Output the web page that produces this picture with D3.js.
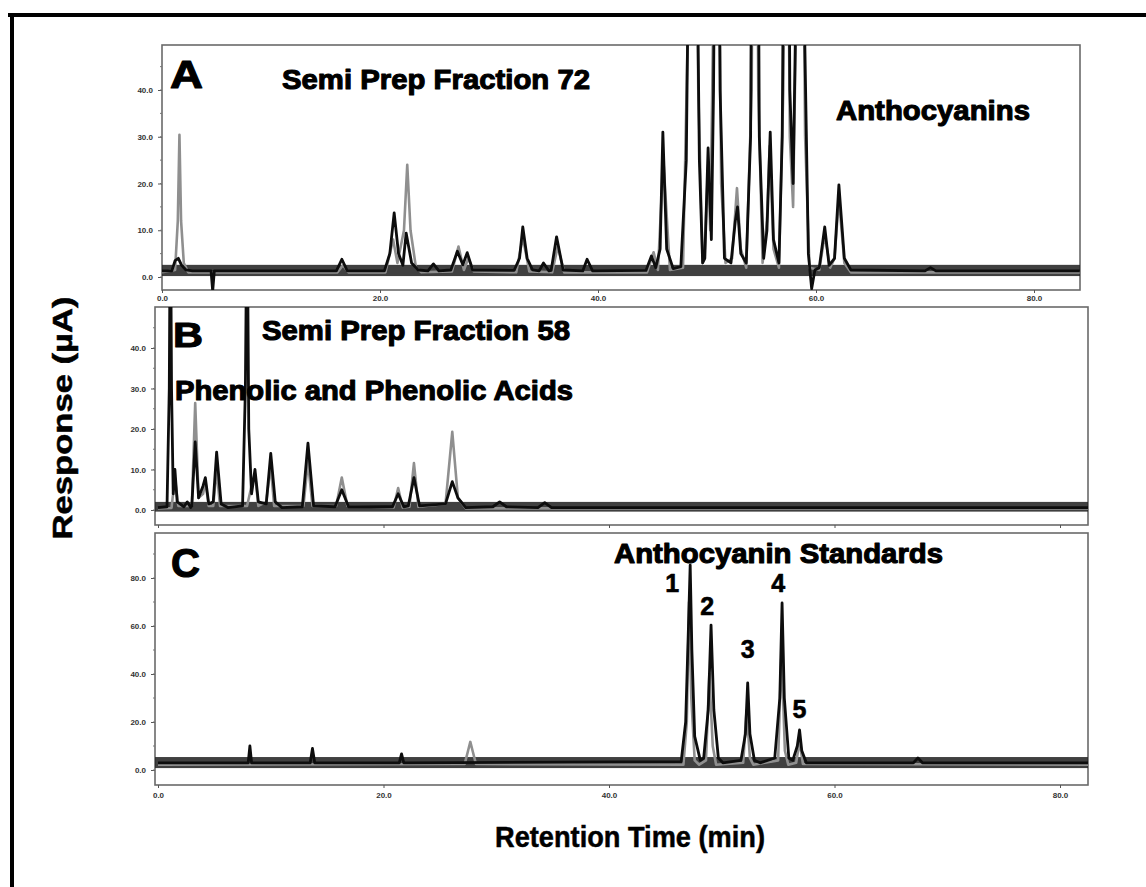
<!DOCTYPE html>
<html><head><meta charset="utf-8">
<script src="https://cdn.jsdelivr.net/npm/d3@7"></script>
<style>
body{margin:0;background:#fff;}
svg text{font-family:"Liberation Sans",Arial,Helvetica,sans-serif;}
</style>
</head><body>
<svg id="chart" width="1146" height="887"></svg>
<script>
// ---------------- DATA ----------------
const timeTicks = [0, 20, 40, 60, 80];
const timeTickLabels = ["0.0", "20.0", "40.0", "60.0", "80.0"];

const yTicksA = [0, 10, 20, 30, 40];
const yTicksB = [0, 10, 20, 30, 40];
const yTicksC = [0, 20, 40, 60, 80];
const yTickLabelsA = ["0.0", "10.0", "20.0", "30.0", "40.0"];
const yTickLabelsB = ["0.0", "10.0", "20.0", "30.0", "40.0"];
const yTickLabelsC = ["0.0", "20.0", "40.0", "60.0", "80.0"];

// baseline noise band [low, high] (µA)
const bandA = [0.2, 2.6];
const bandB = [-0.4, 2.0];
const bandC = [0.8, 5.4];

// Panel A – Semi Prep Fraction 72 : [time (min), response (µA)]
const traceA_black = [
 [0,1.3],[0.9,1.3],[1.2,3.5],[1.5,4.0],[1.8,2.5],[2.2,1.5],[2.8,1.3],
 [4.5,1.3],[4.65,-3],[4.8,1.3],
 [16.0,1.3],[16.5,3.8],[17.0,1.3],
 [20.4,1.3],[20.9,5],[21.3,13.7],[21.7,5],[22.1,2.5],[22.4,9.4],[22.9,3],[23.5,1.5],
 [24.4,1.3],[24.9,2.8],[25.4,1.3],
 [26.5,1.5],[27.1,5.5],[27.6,2.6],[28.0,5.2],[28.5,1.5],
 [32.3,1.4],[32.8,4],[33.1,10.7],[33.5,4],[34.0,1.5],
 [34.6,1.3],[35.0,3.0],[35.5,1.3],
 [35.7,1.4],[36.2,8.6],[36.8,1.5],
 [38.6,1.3],[39.0,3.8],[39.5,1.3],
 [44.4,1.4],[44.9,4.5],[45.3,2],[45.7,6],[45.95,31],[46.3,6],[46.9,1.8],
 [47.6,2.2],[48.1,25],[48.4,90],[48.7,160],[49.0,90],[49.3,25],[49.6,3],
 [49.8,4],[50.1,27.6],[50.4,8],[50.6,40],[50.9,140],[51.2,40],[51.6,4],
 [52.2,3],[52.6,12],[52.8,15],[53.1,5],[53.6,3],
 [54.0,30],[54.4,220],[54.8,30],[55.2,4],
 [55.5,10],[55.8,31],[56.1,8],[56.6,3],
 [56.9,30],[57.3,160],[57.6,40],[57.9,20],[58.3,80],[58.6,190],[58.9,60],[59.3,5],[59.6,-2.5],[59.9,1.5],
 [60.3,2],[60.8,10.7],[61.2,2.5],[61.7,4],[62.1,19.7],[62.6,4],[63.2,1.5],
 [70,1.3],[70.5,2],[71,1.3],[84.2,1.3]
];
const traceA_gray = [
 [0,1.0],[1.2,1.5],[1.45,12],[1.6,30.4],[1.75,12],[2.0,3],[2.4,1.0],
 [16.1,1.0],[16.6,2.5],[17.1,1.0],
 [20.5,1.0],[21.2,8],[21.6,3],[22.2,10],[22.5,24],[22.8,10],[23.3,2],[23.8,1.0],
 [26.6,1.2],[27.2,6.5],[27.7,1.5],[28.1,4],[28.6,1.2],
 [32.5,1.0],[33.1,8.5],[33.7,1.2],
 [35.8,1.0],[36.3,6.5],[36.9,1.0],
 [44.5,1.0],[45.1,5.3],[45.5,1.5],[46.0,25],[46.6,1.5],
 [47.8,2],[48.3,60],[48.8,130],[49.2,40],[49.6,3],
 [49.8,6],[50.1,24],[50.3,10],[50.6,60],[50.95,120],[51.3,20],[51.7,3],
 [52.3,4],[52.75,19],[53.1,6],[53.6,2],
 [54.1,40],[54.4,180],[54.7,40],[55.1,3],
 [55.5,12],[55.75,28],[56.1,6],[56.6,2],
 [57.0,40],[57.3,120],[57.6,30],[57.9,15],[58.2,60],[58.6,140],[59.0,30],[59.4,2],
 [60.3,1.5],[60.8,9],[61.3,2],[61.7,4],[62.1,17],[62.6,3],[63.2,1.0],
 [84.2,1.0]
];

// Panel B – Semi Prep Fraction 58
const traceB_black = [
 [0,0.6],[0.8,0.8],[1.0,30],[1.1,80],[1.2,30],[1.35,4],[1.5,10],[1.7,2],[2.3,0.8],[2.6,2],[2.9,0.6],
 [3.0,1],[3.3,16.8],[3.6,3],[4.0,6],[4.2,8],[4.5,1.5],[4.9,2],[5.2,14.3],[5.6,1.5],[6.2,0.6],
 [7.5,1],[7.75,30],[7.9,80],[8.05,20],[8.3,4],[8.6,10],[8.9,2],[9.6,1.5],[10.0,14],[10.4,2],[11,0.6],
 [12.8,0.8],[13.3,16.5],[13.8,1],
 [15.7,0.8],[16.3,5],[16.9,0.8],
 [20.8,0.8],[21.3,4],[21.8,0.8],
 [22.2,1],[22.7,8],[23.2,1],
 [25.5,1.5],[26.1,7],[26.6,3],[27.3,0.6],
 [29.7,0.8],[30.3,2],[30.9,0.8],
 [33.7,0.6],[34.3,1.8],[34.9,0.6],
 [82.6,0.6]
];
const traceB_gray = [
 [0,0.4],[1.2,0.5],[1.5,8],[1.8,1],[3.0,1],[3.3,26.4],[3.6,3],[4.0,4],[4.2,7],[4.5,1],[4.9,1],[5.2,10],[5.5,1],
 [7.9,1],[8.3,6],[8.6,9],[8.9,1],[9.6,2],[10.0,11],[10.3,1],
 [12.9,1],[13.3,12],[13.7,1],
 [15.8,1],[16.3,8],[16.8,1],
 [20.9,0.6],[21.3,5.4],[21.7,0.6],
 [22.3,0.8],[22.7,11.6],[23.1,0.8],
 [25.5,1.5],[26.1,19.3],[26.6,3],[27.3,0.4],
 [82.6,0.4]
];

// Panel C – Anthocyanin Standards
const traceC_black = [
 [0,3],[8.0,3],[8.15,10],[8.3,3],
 [13.5,3],[13.7,9],[13.9,3],
 [21.4,3],[21.6,6.7],[21.8,3],
 [46.4,3.5],[46.8,20],[47.05,60],[47.2,85.4],[47.35,50],[47.6,14],[48.1,4],
 [48.4,5],[48.8,25],[49.05,60.4],[49.3,25],[49.7,5],[50.1,3],
 [51.7,4],[52.1,15],[52.3,36.3],[52.5,15],[52.9,4],[53.4,3],
 [54.7,5],[55.15,30],[55.35,69.6],[55.55,30],[55.95,5],
 [56.3,4],[56.7,10],[56.9,16.7],[57.1,8],[57.5,3],
 [67.0,3],[67.4,5],[67.8,3],
 [82.6,3]
];
const traceC_gray = [
 [0,2.2],[27.2,2.5],[27.5,8],[27.7,11.7],[27.9,8],[28.2,2.5],
 [46.6,2.2],[46.9,20],[47.1,70],[47.3,30],[47.6,4],[48.0,2.2],
 [48.6,4],[48.9,40],[49.2,10],[49.5,2.2],
 [51.9,3],[52.2,25],[52.5,5],[52.8,2.2],
 [55.0,4],[55.3,50],[55.6,8],[55.9,2.2],
 [56.6,3],[56.9,12],[57.2,2.5],
 [82.6,2.2]
];

const peakNumbers = ["1", "2", "3", "4", "5"];
const peakNumberTimes = [45.6, 48.7, 52.3, 55.0, 56.9]; // label positions (min)

// ---------------- DRAW ----------------
const svg = d3.select("#chart");

// outer frame
svg.append("line").attr("x1", 8).attr("x2", 1146).attr("y1", 15).attr("y2", 15)
  .attr("stroke", "#000").attr("stroke-width", 4);
svg.append("line").attr("x1", 12).attr("x2", 12).attr("y1", 13).attr("y2", 887)
  .attr("stroke", "#000").attr("stroke-width", 4);

const panels = [
  { id: "A", box: [162, 45, 1080, 290], xRange: [162, 1034], yRange: [277, 90], yDom: [0, 40],
    yTicks: yTicksA, yLabels: yTickLabelsA, band: bandA, traces: [traceA_gray, traceA_black], xLabelY: 300, showX: true },
  { id: "B", box: [155, 307, 1088, 525], xRange: [158, 1060], yRange: [510, 348], yDom: [0, 40],
    yTicks: yTicksB, yLabels: yTickLabelsB, band: bandB, traces: [traceB_gray, traceB_black], xLabelY: 531, showX: false },
  { id: "C", box: [155, 533, 1088, 785], xRange: [158, 1060], yRange: [770, 578], yDom: [0, 80],
    yTicks: yTicksC, yLabels: yTickLabelsC, band: bandC, traces: [traceC_gray, traceC_black], xLabelY: 797, showX: true }
];

const traceColors = ["#8f8f8f", "#0d0d0d"];
const traceWidths = [2.6, 2.8];

panels.forEach(p => {
  const [bx0, by0, bx1, by1] = p.box;
  const x = d3.scaleLinear().domain([0, 80]).range(p.xRange);
  const y = d3.scaleLinear().domain(p.yDom).range(p.yRange);
  p.x = x; p.y = y;
  const g = svg.append("g");

  const clipId = "clip" + p.id;
  svg.append("clipPath").attr("id", clipId).append("rect")
    .attr("x", bx0).attr("y", by0).attr("width", bx1 - bx0).attr("height", by1 - by0);

  g.append("rect").attr("x", bx0).attr("y", by0).attr("width", bx1 - bx0).attr("height", by1 - by0)
    .attr("fill", "#fff").attr("stroke", "#6a6a6a").attr("stroke-width", 1.6);

  const plot = g.append("g").attr("clip-path", `url(#${clipId})`);

  plot.append("rect")
    .attr("x", bx0).attr("width", bx1 - bx0)
    .attr("y", y(p.band[1])).attr("height", y(p.band[0]) - y(p.band[1]))
    .attr("fill", "#262626").attr("opacity", 0.88);

  const line = d3.line().x(d => x(d[0])).y(d => y(d[1])).curve(d3.curveLinear);
  p.traces.forEach((t, i) => {
    plot.append("path").datum(t).attr("d", line)
      .attr("fill", "none").attr("stroke", traceColors[i]).attr("stroke-width", traceWidths[i])
      .attr("stroke-linejoin", "round");
  });

  const yAxis = d3.axisLeft(y).tickValues(p.yTicks).tickSize(4).tickFormat((d, i) => p.yLabels[i]);
  const ya = g.append("g").attr("transform", `translate(${bx0},0)`).call(yAxis);
  ya.select(".domain").remove();
  ya.selectAll("line").attr("stroke", "#555");
  ya.selectAll("text").attr("font-size", 8).attr("font-weight", 700).attr("fill", "#333").attr("dx", -2);
  const step = p.yTicks[1] - p.yTicks[0];
  const minor = d3.range(p.yDom[0] - step, p.yDom[1] + step * 1.5, step / 2)
    .filter(v => y(v) > by0 + 2 && y(v) < by1 - 1);
  g.append("g").selectAll("line").data(minor).join("line")
    .attr("x1", bx0 - 2).attr("x2", bx0).attr("y1", d => y(d)).attr("y2", d => y(d))
    .attr("stroke", "#777").attr("stroke-width", 1);

  const xAxis = d3.axisBottom(x).tickValues(timeTicks).tickSize(3)
    .tickFormat((d, i) => p.showX ? timeTickLabels[i] : "");
  const xa = g.append("g").attr("transform", `translate(0,${by1})`).call(xAxis);
  xa.select(".domain").remove();
  xa.selectAll("line").attr("stroke", "#555");
  xa.selectAll("text").attr("font-size", 8).attr("font-weight", 700).attr("fill", "#333")
    .attr("y", p.xLabelY - by1 - 2).attr("dy", "0.35em");
});

// ---- text annotations ----
function label(txt, xPos, yPos, size, width, anchor) {
  const t = svg.append("text").attr("x", xPos).attr("y", yPos).text(txt)
    .attr("font-size", size).attr("font-weight", 700).attr("fill", "#000")
    .attr("stroke", "#000").attr("stroke-width", 1.1).attr("stroke-linejoin", "round")
    .attr("text-anchor", anchor || "start");
  if (width) t.attr("textLength", width).attr("lengthAdjust", "spacingAndGlyphs");
  return t;
}
label("A", 170, 88, 39, 33);
label("Semi Prep Fraction 72", 282, 89, 28, 308);
label("Anthocyanins", 836, 120, 28, 194);
label("B", 173, 347, 35, 30);
label("Semi Prep Fraction 58", 262, 340, 28, 308);
label("Phenolic and Phenolic Acids", 175, 400, 28, 398);
label("C", 171, 577, 40, 29);
label("Anthocyanin Standards", 614, 563, 28, 329);

const pc = panels[2];
const numY = [592, 615, 658, 592, 718];
peakNumbers.forEach((n, i) => {
  label(n, pc.x(peakNumberTimes[i]), numY[i], 25, null, "middle").attr("stroke-width", 0.6);
});

svg.append("text").attr("transform", "translate(72,418) rotate(-90)")
  .attr("text-anchor", "middle").attr("font-size", 28).attr("font-weight", 700)
  .attr("stroke", "#000").attr("stroke-width", 0.5)
  .attr("textLength", 243).attr("lengthAdjust", "spacingAndGlyphs")
  .text("Response (µA)");
svg.append("text").attr("x", 630).attr("y", 847)
  .attr("text-anchor", "middle").attr("font-size", 29).attr("font-weight", 700)
  .attr("stroke", "#000").attr("stroke-width", 0.5)
  .attr("textLength", 270).attr("lengthAdjust", "spacingAndGlyphs")
  .text("Retention Time (min)");
</script>
</body></html>
